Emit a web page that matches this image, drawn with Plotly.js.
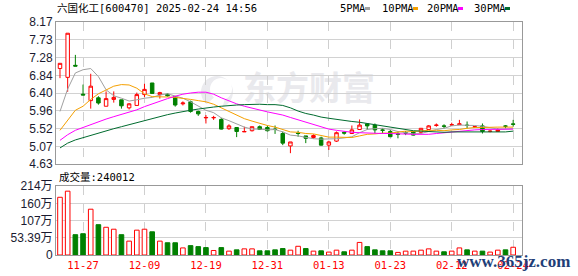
<!DOCTYPE html>
<html><head><meta charset="utf-8">
<script src="https://cdn.plot.ly/plotly-3.0.1.min.js"></script>
<style>html,body{margin:0;padding:0;background:#fff;}#chart{width:578px;height:276px;}</style>
</head><body><div id="chart"></div>
<script>
const dates = ['11-22','11-25','11-26','11-27','11-28','11-29','12-02','12-03','12-04','12-05',
 '12-06','12-09','12-10','12-11','12-12','12-13','12-16','12-17','12-18','12-19',
 '12-20','12-23','12-24','12-25','12-26','12-27','12-30','12-31','01-02','01-03',
 '01-06','01-07','01-08','01-09','01-10','01-13','01-14','01-15','01-16','01-17',
 '01-20','01-21','01-22','01-23','01-24','01-27','02-05','02-06','02-07','02-10',
 '02-11','02-12','02-13','02-14','02-17','02-18','02-19','02-20','02-21','02-24'];
const openP = [7.01,6.79,7.09,6.37,6.21,6.28,6.07,6.24,6.23,6.03,
 6.09,6.36,6.65,6.36,6.37,6.31,6.13,6.18,5.94,5.78,
 5.78,5.74,5.51,5.54,5.43,5.46,5.56,5.54,5.50,5.39,
 5.08,5.40,5.33,5.29,5.28,5.10,5.20,5.42,5.39,5.49,
 5.63,5.60,5.48,5.44,5.38,5.41,5.44,5.42,5.49,5.59,
 5.58,5.60,5.61,5.60,5.55,5.58,5.44,5.44,5.58,5.63];
const highP = [7.14,7.89,7.35,6.61,6.88,6.32,6.44,6.44,6.23,6.15,
 6.41,6.63,6.65,6.43,6.39,6.31,6.19,6.21,5.96,5.85,
 5.83,5.78,5.62,5.55,5.56,5.56,5.59,5.59,5.59,5.44,
 5.18,5.46,5.33,5.37,5.31,5.21,5.44,5.44,5.59,5.74,
 5.64,5.64,5.52,5.48,5.44,5.45,5.45,5.52,5.60,5.64,
 5.62,5.66,5.73,5.69,5.58,5.64,5.47,5.52,5.60,5.73];
const lowP = [6.77,6.43,7.07,6.35,6.01,6.11,6.07,6.16,6.01,5.99,
 6.09,6.30,6.38,6.26,6.31,6.06,6.09,5.91,5.83,5.64,
 5.73,5.49,5.48,5.30,5.43,5.44,5.48,5.44,5.38,5.10,
 4.90,5.31,5.15,5.26,5.09,4.98,5.18,5.36,5.39,5.48,
 5.48,5.39,5.39,5.30,5.27,5.35,5.34,5.39,5.48,5.56,
 5.52,5.58,5.61,5.52,5.53,5.39,5.42,5.43,5.52,5.56];
const closeP = [7.14,7.89,7.07,6.35,6.57,6.15,6.26,6.29,6.08,6.13,
 6.36,6.49,6.39,6.41,6.33,6.10,6.15,5.94,5.88,5.79,
 5.79,5.50,5.58,5.44,5.44,5.56,5.49,5.46,5.49,5.15,
 5.18,5.39,5.27,5.34,5.10,5.18,5.41,5.40,5.48,5.60,
 5.58,5.48,5.47,5.31,5.37,5.40,5.35,5.52,5.58,5.60,
 5.57,5.61,5.63,5.59,5.56,5.44,5.45,5.48,5.57,5.62];
const ma5 = [5.94,6.50,6.90,6.98,7.01,6.81,6.48,6.33,6.27,6.20,
 6.23,6.27,6.29,6.35,6.38,6.33,6.27,6.18,6.08,5.97,
 5.91,5.78,5.71,5.62,5.55,5.50,5.50,5.48,5.49,5.43,
 5.35,5.33,5.29,5.26,5.25,5.25,5.26,5.28,5.31,5.41,
 5.49,5.51,5.52,5.49,5.44,5.41,5.38,5.39,5.44,5.49,
 5.52,5.58,5.60,5.60,5.59,5.57,5.53,5.50,5.50,5.51];
const ma10 = [5.47,5.72,5.97,6.07,6.24,6.38,6.48,6.57,6.61,6.60,
 6.52,6.38,6.31,6.31,6.30,6.29,6.27,6.24,6.21,6.18,
 6.12,6.03,5.95,5.85,5.76,5.70,5.64,5.59,5.55,5.49,
 5.43,5.42,5.39,5.38,5.34,5.30,5.30,5.29,5.29,5.33,
 5.37,5.38,5.40,5.40,5.43,5.45,5.44,5.46,5.47,5.47,
 5.46,5.48,5.49,5.52,5.54,5.54,5.55,5.55,5.55,5.55];
const ma20 = [5.22,5.36,5.47,5.54,5.62,5.68,5.75,5.81,5.87,5.92,
 5.98,6.06,6.13,6.20,6.26,6.32,6.37,6.40,6.42,6.42,
 6.37,6.28,6.20,6.13,6.07,6.02,5.98,5.93,5.89,5.85,
 5.79,5.73,5.67,5.61,5.55,5.50,5.47,5.44,5.42,5.41,
 5.40,5.40,5.39,5.39,5.38,5.37,5.37,5.37,5.37,5.39,
 5.41,5.42,5.44,5.46,5.48,5.49,5.49,5.50,5.50,5.50];
const ma30 = [5.03,5.15,5.23,5.29,5.35,5.40,5.46,5.51,5.56,5.61,
 5.67,5.72,5.77,5.82,5.86,5.90,5.94,5.97,6.00,6.03,
 6.05,6.07,6.09,6.10,6.11,6.12,6.12,6.11,6.11,6.09,
 6.03,5.95,5.89,5.85,5.80,5.77,5.74,5.71,5.69,5.67,
 5.64,5.61,5.58,5.54,5.51,5.49,5.46,5.45,5.44,5.43,
 5.42,5.43,5.43,5.43,5.44,5.43,5.43,5.43,5.43,5.45];
const volume = [179,198,63,66,142,94,86,80,63,43,
 77,80,72,43,38,38,22,29,26,23,
 14,23,12,16,19,19,13,13,16,20,
 15,27,20,12,13,9,15,10,15,39,
 26,16,13,13,8,12,12,15,19,12,
 10,12,22,16,12,12,9,15,16,24];
const volumeUp = [1,1,0,0,1,0,1,1,0,1,
 1,1,0,1,0,0,1,0,0,0,
 1,0,1,0,1,1,0,0,0,0,
 1,1,0,1,0,1,1,0,1,1,
 0,0,0,0,1,1,1,1,1,1,
 0,1,1,0,1,0,1,1,0,1];
const xTickLabels = ['11-27','12-09','12-19','12-31','01-13','01-23','02-12','02-24'];
const priceTicks = [4.63,5.07,5.52,5.96,6.40,6.84,7.28,7.73,8.17];
const volTicks = [0,53.39,107,160,214];
const volTickText = ['0','53.39万','107万','160万','214万'];
const maNames = ['5PMA','10PMA','20PMA','30PMA'];
const maColors = ['#a0a0a0','#f5a000','#ff00ff','#006b2e'];
const titleText = '六国化工[600470] 2025-02-24 14:56';
const volTitleText = '成交量:240012';
const watermark1 = '东方财富';
const watermark2 = 'www.365jz.com';

const W = 578, H = 276, L = 56, R = 522, T = 22, B = 255;
const px = x => (x - L) / (R - L);
const py = y => (B - y) / (B - T);
const monoFont = 'DejaVu Sans Mono, Noto Sans CJK SC, monospace';

const traces = [];
traces.push({
  type: 'candlestick', x: dates, open: openP, high: highP, low: lowP, close: closeP,
  xaxis: 'x', yaxis: 'y', whiskerwidth: 0, hoverinfo: 'skip', showlegend: false,
  increasing: {line: {color: '#ff0000', width: 1}, fillcolor: '#ffffff'},
  decreasing: {line: {color: '#008000', width: 1}, fillcolor: '#008000'}
});
[ma5, ma10, ma20, ma30].forEach((m, k) => traces.push({
  type: 'scatter', mode: 'lines', x: dates, y: m, xaxis: 'x', yaxis: 'y',
  line: {color: maColors[k], width: 1}, hoverinfo: 'skip', showlegend: false
}));
traces.push({
  type: 'bar', x: dates, y: volume, xaxis: 'x2', yaxis: 'y2', hoverinfo: 'skip', showlegend: false,
  marker: {color: volumeUp.map(u => u ? '#ffffff' : '#008000'),
           line: {color: volumeUp.map(u => u ? '#ff0000' : '#008000'), width: 1}}
});

const xBase = {
  type: 'category', range: [-0.52, 60.15], tickmode: 'array', tickvals: xTickLabels, ticktext: xTickLabels,
  showgrid: true, gridcolor: '#cfcfcf', griddash: 'dash', gridwidth: 1,
  showline: true, mirror: true, linecolor: '#999999', linewidth: 1, ticks: '',
  zeroline: false, fixedrange: true, rangeslider: {visible: false}
};
const mainLow = py(164), volHigh = py(186);
const layout = {
  width: W, height: H, margin: {l: L, r: W - R, t: T, b: H - B, pad: 0},
  paper_bgcolor: '#ffffff', plot_bgcolor: '#ffffff', showlegend: false,
  hovermode: false, dragmode: false, boxgap: 0.35, bargap: 0.4,
  xaxis: Object.assign({}, xBase, {anchor: 'y', showticklabels: false}),
  xaxis2: Object.assign({}, xBase, {anchor: 'y2', showticklabels: true,
    tickfont: {family: monoFont, size: 10.5, color: '#ff0000'}}),
  yaxis: {domain: [mainLow, 1], range: [4.63, 8.17], tickmode: 'array', tickvals: priceTicks,
    ticktext: priceTicks.map(v => v.toFixed(2)), showgrid: true, gridcolor: '#d2d2d2',
    showline: true, mirror: true, linecolor: '#999999', zeroline: false, ticks: '', fixedrange: true,
    tickfont: {family: 'Liberation Sans, Arial, sans-serif', size: 12, color: '#1a1a30'}},
  yaxis2: {domain: [0, volHigh], range: [0, 214], tickmode: 'array', tickvals: volTicks,
    ticktext: volTickText, showgrid: true, gridcolor: '#d2d2d2',
    showline: true, mirror: true, linecolor: '#999999', zeroline: false, ticks: '', fixedrange: true,
    tickfont: {family: 'Liberation Sans, Noto Sans CJK SC, sans-serif', size: 12, color: '#1a1a30'}},
  annotations: [],
  shapes: []
};
layout.annotations.push({xref: 'paper', yref: 'paper', x: px(55), y: py(8), xanchor: 'left', yanchor: 'middle',
  text: titleText, showarrow: false, font: {family: monoFont, size: 10.5, color: '#000000'}});
layout.annotations.push({xref: 'paper', yref: 'paper', x: px(57), y: py(177), xanchor: 'left', yanchor: 'middle',
  text: volTitleText, showarrow: false, font: {family: monoFont, size: 10.5, color: '#000000'}});
const legX = [338, 380, 425, 472], legSq = [365, 413, 458, 505];
maNames.forEach((n, k) => {
  layout.annotations.push({xref: 'paper', yref: 'paper', x: px(legX[k]), y: py(8), xanchor: 'left', yanchor: 'middle',
    text: n, showarrow: false, font: {family: monoFont, size: 10.5, color: '#000000'}});
  layout.shapes.push({type: 'rect', xref: 'paper', yref: 'paper', x0: px(legSq[k]), x1: px(legSq[k] + 5),
    y0: py(10), y1: py(7), fillcolor: maColors[k], line: {width: 0}});
});
// watermark logo (crescent swirl) drawn behind the data
(function () {
  const cx = 217, cy = 92, pts = [];
  for (let a = -70; a <= 230; a += 10) {
    const r = a * Math.PI / 180;
    pts.push([cx + 16 * Math.cos(r), cy - 16 * Math.sin(r)]);
  }
  for (let a = 230; a >= -70; a -= 10) {
    const r = a * Math.PI / 180;
    pts.push([cx + 4 + 11 * Math.cos(r), cy - 3 - 11 * Math.sin(r)]);
  }
  const path = pts.map((p, i) => (i ? 'L' : 'M') + px(p[0]).toFixed(4) + ',' + py(p[1]).toFixed(4)).join(' ') + ' Z';
  layout.shapes.push({type: 'path', xref: 'paper', yref: 'paper', layer: 'below', path: path,
    fillcolor: '#ebebef', line: {width: 0}});
})();
layout.shapes.push({type: 'rect', xref: 'paper', yref: 'paper', layer: 'below',
  x0: px(236), x1: px(382), y0: py(110), y1: py(72), fillcolor: 'rgba(0,0,0,0)', line: {width: 0},
  label: {text: watermark1, textposition: 'middle center',
    font: {family: 'Noto Sans CJK SC', size: 33, color: '#e9e9ed', weight: 'bold'}}});
layout.annotations.push({xref: 'paper', yref: 'paper', x: px(513), y: py(261), xanchor: 'center', yanchor: 'middle',
  text: watermark2, showarrow: false,
  font: {family: 'Liberation Serif, DejaVu Serif, serif', size: 17, color: '#1f3f78', weight: 'bold'}});

Plotly.newPlot('chart', traces, layout, {staticPlot: true, displayModeBar: false});
</script>
</body></html>
